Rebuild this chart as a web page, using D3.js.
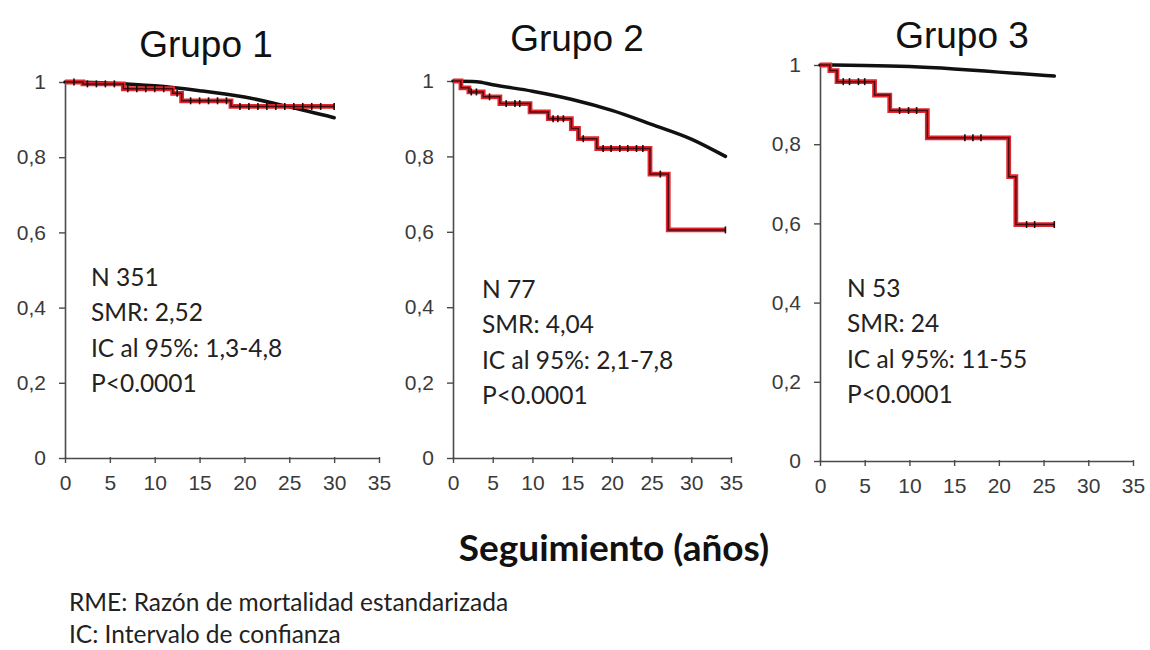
<!DOCTYPE html>
<html>
<head>
<meta charset="utf-8">
<script src="https://cdn.jsdelivr.net/npm/d3@7"></script>
<style>
  html, body { margin: 0; padding: 0; background: #fff; }
  svg { display: block; }
</style>
</head>
<body>
<svg id="chart" width="1150" height="650"></svg>
<script>
// ---- Data ----------------------------------------------------------------
const groups = ["Grupo 1", "Grupo 2", "Grupo 3"];
const xTicks = [0, 5, 10, 15, 20, 25, 30, 35];
const yTicks = [0, 0.2, 0.4, 0.6, 0.8, 1];
const yTickLabels = ["0", "0,2", "0,4", "0,6", "0,8", "1"];

// Observed survival (Kaplan-Meier step curves): step times and values
const kmTimes1 = [0, 2, 6.5, 12, 13, 18.5];
const kmSurv1  = [1, 0.995, 0.982, 0.97, 0.95, 0.935];
const kmEnd1 = 30;
const censor1 = [1, 2.5, 3.5, 4.5, 5.5, 7, 8, 9, 10, 11, 12.5, 14, 15, 16, 17, 18, 19.5, 20.5, 21.5, 22.5, 23.5, 24.5, 25.5, 26.5, 27.5, 28.5, 30];

const kmTimes2 = [0, 1, 2, 3.8, 5.9, 9.7, 12, 14.9, 15.8, 18.1, 24.8, 27.1];
const kmSurv2  = [1, 0.982, 0.971, 0.958, 0.94, 0.918, 0.9, 0.874, 0.847, 0.821, 0.753, 0.605];
const kmEnd2 = 34.3;
const censor2 = [2.3, 2.95, 4.6, 6.7, 7.8, 8.4, 12.6, 13.2, 13.9, 16.4, 18.9, 19.9, 21, 22, 23.1, 23.9, 26.1, 34.3];

const kmTimes3 = [0, 1.1, 1.9, 6.1, 7.8, 12, 21.1, 21.9];
const kmSurv3  = [1, 0.986, 0.958, 0.924, 0.885, 0.816, 0.718, 0.597];
const kmEnd3 = 26.2;
const censor3 = [2.6, 3.3, 4.3, 5.0, 8.9, 9.9, 10.8, 16.2, 17.1, 18.0, 23.1, 24.0, 26.2];

// Expected survival of the reference population
const expTimes1 = [0, 5, 10, 15, 20, 25, 30];
const expSurv1  = [1, 0.997, 0.99, 0.977, 0.96, 0.934, 0.905];
const expTimes2 = [0, 3, 5, 10, 15, 20, 25, 30, 34.3];
const expSurv2  = [1, 0.998, 0.99, 0.973, 0.951, 0.922, 0.885, 0.846, 0.8];
const expTimes3 = [0, 5, 10, 15, 20, 26.2];
const expSurv3  = [1, 0.999, 0.996, 0.99, 0.982, 0.972];

// Statistics shown inside each panel
const statN   = ["N 351", "N 77", "N 53"];
const statSMR = ["SMR: 2,52", "SMR: 4,04", "SMR: 24"];
const statIC  = ["IC al 95%: 1,3-4,8", "IC al 95%: 2,1-7,8", "IC al 95%: 11-55"];
const statP   = ["P<0.0001", "P<0.0001", "P<0.0001"];

const xAxisTitle = "Seguimiento (años)";
const footnotes = ["RME: Razón de mortalidad estandarizada", "IC: Intervalo de confianza"];

// ---- Layout --------------------------------------------------------------
const panels = [
  { x0: 65,  x1: 379,  yTop: 82, yBot: 458, titleX: 206, titleY: 57, textX: 91,  textY: 277,
    km: { t: kmTimes1, s: kmSurv1, end: kmEnd1 }, cens: censor1, exp: { t: expTimes1, s: expSurv1 } },
  { x0: 453, x1: 731,  yTop: 81, yBot: 458, titleX: 577, titleY: 51, textX: 482, textY: 289,
    km: { t: kmTimes2, s: kmSurv2, end: kmEnd2 }, cens: censor2, exp: { t: expTimes2, s: expSurv2 } },
  { x0: 820, x1: 1133, yTop: 65, yBot: 461, titleX: 962, titleY: 48, textX: 847, textY: 288,
    km: { t: kmTimes3, s: kmSurv3, end: kmEnd3 }, cens: censor3, exp: { t: expTimes3, s: expSurv3 } }
];
const statLines = [statN, statSMR, statIC, statP];
const lineGap = 35.5;

const svg = d3.select("#chart");
const axisColor = "#4a4a4a";
const redColor = "#e3262d";
const darkRed = "#4d0b12";

panels.forEach((p, i) => {
  const x = d3.scaleLinear().domain([0, 35]).range([p.x0, p.x1]);
  const y = d3.scaleLinear().domain([0, 1]).range([p.yBot, p.yTop]);
  const g = svg.append("g");

  // Title
  g.append("text")
    .attr("x", p.titleX).attr("y", p.titleY)
    .attr("text-anchor", "middle")
    .attr("font-family", "Liberation Sans, Arial, sans-serif")
    .attr("font-size", 37)
    .attr("fill", "#111")
    .text(groups[i]);

  // Axes
  const xAxis = d3.axisBottom(x).tickValues(xTicks).tickSize(6).tickSizeOuter(0).tickPadding(8)
    .tickFormat(d3.format("d"));
  const yAxis = d3.axisLeft(y).tickValues(yTicks).tickSize(6).tickSizeOuter(0).tickPadding(13)
    .tickFormat((d, k) => yTickLabels[k]);

  const gx = g.append("g").attr("transform", `translate(0,${p.yBot})`).call(xAxis);
  const gy = g.append("g").attr("transform", `translate(${p.x0},0)`).call(yAxis);
  [gx, gy].forEach(a => {
    a.select(".domain").attr("stroke", axisColor).attr("stroke-width", 1.6);
    a.selectAll(".tick line").attr("stroke", axisColor).attr("stroke-width", 1.4);
    a.selectAll(".tick text")
      .attr("font-family", "Liberation Sans, Arial, sans-serif")
      .attr("font-size", 21)
      .attr("fill", "#3a3a3a");
  });
  gx.selectAll(".tick line").attr("y1", -1).attr("y2", 5);
  gy.selectAll(".tick line").attr("x1", 1).attr("x2", -6);
  gx.selectAll(".tick text").attr("dy", "0.85em");

  // Expected survival curve
  const expPts = p.exp.t.map((t, k) => [t, p.exp.s[k]]);
  g.append("path")
    .datum(expPts)
    .attr("fill", "none")
    .attr("stroke", "#111")
    .attr("stroke-width", 3.5)
    .attr("stroke-linecap", "round")
    .attr("d", d3.line().x(d => x(d[0])).y(d => y(d[1])).curve(d3.curveMonotoneX));

  // Observed step curve
  const kmPts = p.km.t.map((t, k) => [t, p.km.s[k]]);
  kmPts.push([p.km.end, p.km.s[p.km.s.length - 1]]);
  const stepLine = d3.line().x(d => x(d[0])).y(d => y(d[1])).curve(d3.curveStepAfter);
  g.append("path").datum(kmPts)
    .attr("fill", "none").attr("stroke", redColor).attr("stroke-width", 4.8)
    .attr("d", stepLine);
  g.append("path").datum(kmPts)
    .attr("fill", "none").attr("stroke", darkRed).attr("stroke-width", 1.5)
    .attr("d", stepLine);

  // Censoring marks
  const survAt = t => {
    let v = p.km.s[0];
    p.km.t.forEach((tt, k) => { if (tt <= t) v = p.km.s[k]; });
    return v;
  };
  g.selectAll(".cens").data(p.cens).enter().append("line")
    .attr("x1", d => x(d)).attr("x2", d => x(d))
    .attr("y1", d => y(survAt(d)) - 3.5).attr("y2", d => y(survAt(d)) + 3.5)
    .attr("stroke", "#1a0a0a").attr("stroke-width", 1.6);

  // Statistics
  statLines.forEach((arr, k) => {
    g.append("text")
      .attr("x", p.textX).attr("y", p.textY + k * lineGap)
      .attr("dy", "0.35em")
      .attr("font-family", "Lato, 'Open Sans', sans-serif")
      .attr("font-size", 24.5)
      .attr("fill", "#222")
      .text(arr[i]);
  });
});

// Shared x-axis title
svg.append("text")
  .attr("x", 614).attr("y", 561)
  .attr("text-anchor", "middle")
  .attr("font-family", "Lato, 'Open Sans', sans-serif")
  .attr("font-weight", "bold")
  .attr("font-size", 37)
  .attr("fill", "#111")
  .text(xAxisTitle);

// Footnotes
footnotes.forEach((t, k) => {
  svg.append("text")
    .attr("x", 69).attr("y", 602 + k * 32)
    .attr("dy", "0.35em")
    .attr("font-family", "Lato, 'Open Sans', sans-serif")
    .attr("font-size", 24.5)
    .attr("fill", "#222")
    .text(t);
});
</script>
</body>
</html>
